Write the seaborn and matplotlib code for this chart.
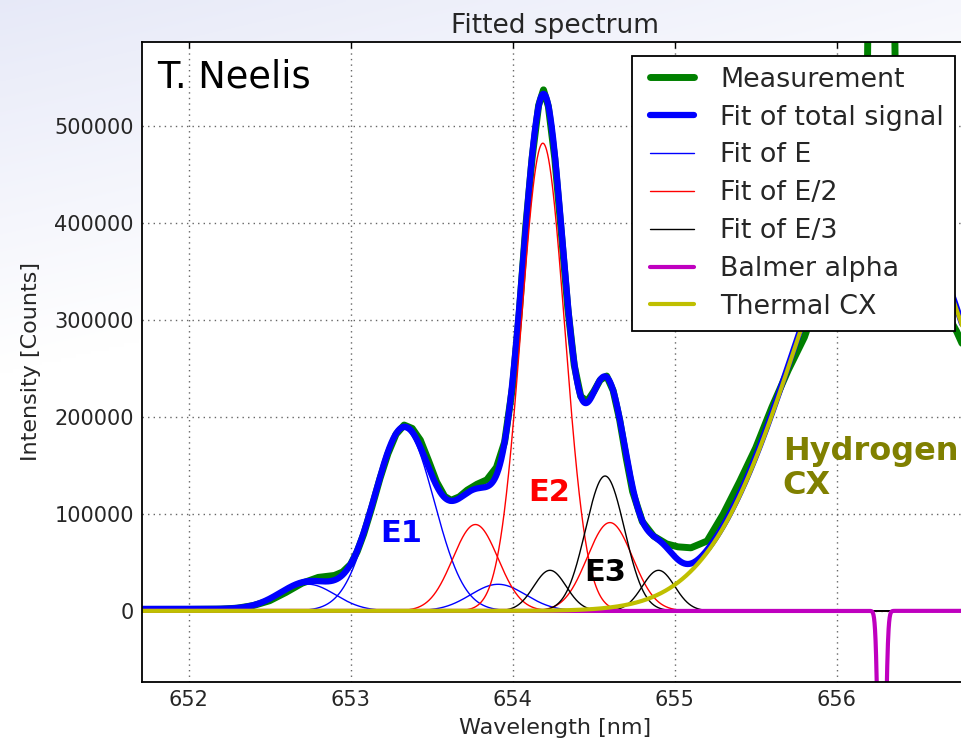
import numpy as np
import pandas as pd
import matplotlib
matplotlib.use("Agg")
import matplotlib.pyplot as plt
import seaborn as sns

# ---------------- data ----------------
# Measured spectrum (wavelength in nm, intensity in counts)
meas_wl = [651.71, 652.0, 652.2, 652.3, 652.4, 652.5, 652.6, 652.7, 652.8, 652.9,
           652.95, 653.0, 653.04, 653.08, 653.13, 653.18, 653.23, 653.28, 653.33, 653.38,
           653.43, 653.48, 653.53, 653.58, 653.62, 653.67, 653.72, 653.78, 653.84, 653.9,
           653.95, 654.0, 654.04, 654.08, 654.12, 654.16, 654.19, 654.22, 654.26, 654.3,
           654.34, 654.38, 654.42, 654.46, 654.5, 654.54, 654.58, 654.62, 654.66, 654.7,
           654.74, 654.8, 654.87, 654.95, 655.02, 655.1, 655.2, 655.3, 655.4, 655.5,
           655.6, 655.7, 655.8, 655.9, 656.0, 656.1, 656.19, 656.22, 656.25, 656.29,
           656.33, 656.36, 656.4, 656.45, 656.55, 656.65, 656.74, 656.81]
meas_counts = [1500, 1500, 1800, 2800, 5500, 10500, 19000, 28500, 34500, 36500,
               40000, 48000, 61000, 79000, 106500, 136000, 162000, 182000, 191500, 188000,
               176000, 155000, 133000, 118000, 114000, 117500, 124500, 130500, 135000, 148000,
               174000, 232000, 306000, 395000, 467000, 521000, 537000, 520000, 466000, 390000,
               312000, 253000, 221000, 216000, 226000, 238000, 242000, 227000, 197000, 158000,
               123000, 92000, 77000, 69000, 66000, 65000, 72000, 100000, 133000, 168000,
               210000, 248000, 282000, 330000, 385000, 460000, 570000, 1000000, 2000000, 2000000,
               1000000, 570000, 470000, 410000, 355000, 315000, 288000, 262000]

# Fitted Gaussian components (centre nm, height counts, width nm)
e1_center = [652.735, 653.33, 653.91]
e1_height = [27500, 187000, 27400]
e1_sigma = [0.17, 0.185, 0.17]

e2_center = [653.77, 654.186, 654.60]
e2_height = [89000, 482000, 91000]
e2_sigma = [0.14, 0.135, 0.14]

e3_center = [654.23, 654.57, 654.90]
e3_height = [41800, 139000, 41800]
e3_sigma = [0.10, 0.12, 0.10]

balmer_center = [656.278]
balmer_height = [-400000]
balmer_sigma = [0.017]

cx_center = [656.28]
cx_height = [446000]
cx_sigma = [0.54]

background_level = 2000

xticks = [652, 653, 654, 655, 656]
yticks = [0, 100000, 200000, 300000, 400000, 500000]
legend_labels = ["Measurement", "Fit of total signal", "Fit of E", "Fit of E/2",
                 "Fit of E/3", "Balmer alpha", "Thermal CX"]

# ---------------- styling ----------------
sns.set_theme(style="white")
plt.rcParams["font.family"] = ["DejaVu Sans"]
text_col = "#262626"

W, H = 961, 742
fig = plt.figure(figsize=(W / 100, H / 100), dpi=100)
fig.patch.set_facecolor("white")

# soft lavender slide background
bg = fig.add_axes([0, 0, 1, 1], zorder=-10)
yy, xx = np.mgrid[0:1:200j, 0:1:260j]
t = np.clip(1 - yy / 0.5 - 0.6 * xx, 0, 1)
lav = np.array([0.905, 0.915, 0.972])
img = 1 - t[..., None] * (1 - lav)
bg.imshow(img, extent=[0, 1, 0, 1], origin="upper", aspect="auto", interpolation="bilinear")
bg.axis("off")

ax_left, ax_right, ax_top, ax_bot = 142.3, 968.0, 42.3, 681.7
ax = fig.add_axes([ax_left / W, 1 - ax_bot / H, (ax_right - ax_left) / W, (ax_bot - ax_top) / H])
ax.set_facecolor("white")

wl = np.linspace(651.6, 656.9, 5000)


def gauss(x, c, h, s):
    return h * np.exp(-((x - c) ** 2) / (2 * s ** 2))


e1_curves = [gauss(wl, c, h, s) for c, h, s in zip(e1_center, e1_height, e1_sigma)]
e2_curves = [gauss(wl, c, h, s) for c, h, s in zip(e2_center, e2_height, e2_sigma)]
e3_curves = [gauss(wl, c, h, s) for c, h, s in zip(e3_center, e3_height, e3_sigma)]
balmer_curve = gauss(wl, balmer_center[0], balmer_height[0], balmer_sigma[0])
cx_curve = gauss(wl, cx_center[0], cx_height[0], cx_sigma[0])
total_curve = sum(e1_curves) + sum(e2_curves) + sum(e3_curves) + cx_curve + background_level

c_green = (0, 0.5, 0)
c_blue = (0, 0, 1)
c_red = (1, 0, 0)
c_black = (0, 0, 0)
c_mag = (0.75, 0, 0.75)
c_yel = (0.75, 0.75, 0)


def line(x, y, color, lw):
    sns.lineplot(x=np.asarray(x), y=np.asarray(y), ax=ax, color=color, linewidth=lw,
                 estimator=None, sort=False, legend=False)
    return ax.get_lines()[-1]


h_meas = line(meas_wl, meas_counts, c_green, 5.0)
h_tot = line(wl, total_curve, c_blue, 4.5)
h_e1 = [line(wl, cu, c_blue, 1.0) for cu in e1_curves][0]
h_e2 = [line(wl, cu, c_red, 1.0) for cu in e2_curves][0]
h_e3 = [line(wl, cu, c_black, 1.0) for cu in e3_curves][0]
h_bal = line(wl, balmer_curve, c_mag, 3.0)
h_cx = line(wl, cx_curve, c_yel, 3.0)

ax.set_xlim(651.714, 656.81)
ax.set_ylim(-73000, 586000)
ax.set_xticks(xticks)
ax.set_yticks(yticks)
ax.set_xticklabels([str(v) for v in xticks])
ax.set_yticklabels([str(v) for v in yticks])
ax.tick_params(direction="in", length=4, width=1, top=True, right=True,
               labelsize=15, colors=text_col, pad=6)
ax.tick_params(axis="both", color="black")
for sp in ax.spines.values():
    sp.set_color("black")
    sp.set_linewidth(1.3)
ax.grid(True, linestyle=(0, (1, 3)), color="#666666", linewidth=1.0)
ax.set_axisbelow(True)

ax.set_xlabel("Wavelength [nm]", fontsize=16, color=text_col, labelpad=6)
ax.set_ylabel("Intensity [Counts]", fontsize=16, color=text_col, labelpad=10)
ax.set_title("Fitted spectrum", fontsize=19, color=text_col, pad=7)

ax.text(0.018, 0.974, "T. Neelis", transform=ax.transAxes, fontsize=26.5,
        ha="left", va="top", color="black")
ax.text(653.31, 80000, "E1", fontsize=22, fontweight="bold", color=c_blue, ha="center", va="center")
ax.text(654.225, 122000, "E2", fontsize=22, fontweight="bold", color=c_red, ha="center", va="center")
ax.text(654.57, 40000, "E3", fontsize=22, fontweight="bold", color=c_black, ha="center", va="center")
ax.text(655.667, 147000, "Hydrogen\nCX", fontsize=23, fontweight="bold", color="#808000",
        ha="left", va="center", linespacing=1.12)

leg = ax.legend([h_meas, h_tot, h_e1, h_e2, h_e3, h_bal, h_cx], legend_labels,
                loc="upper right", bbox_to_anchor=(955 / W, 1 - 56 / H),
                bbox_transform=fig.transFigure, borderaxespad=0, fontsize=19.4,
                frameon=True, fancybox=False, edgecolor="black", framealpha=1,
                borderpad=0.4, labelspacing=0.44, handlelength=2.2, handletextpad=0.7,
                numpoints=2)
leg.get_frame().set_linewidth(1.3)
for txt in leg.get_texts():
    txt.set_color(text_col)

fig.savefig("out.png", dpi=100)
